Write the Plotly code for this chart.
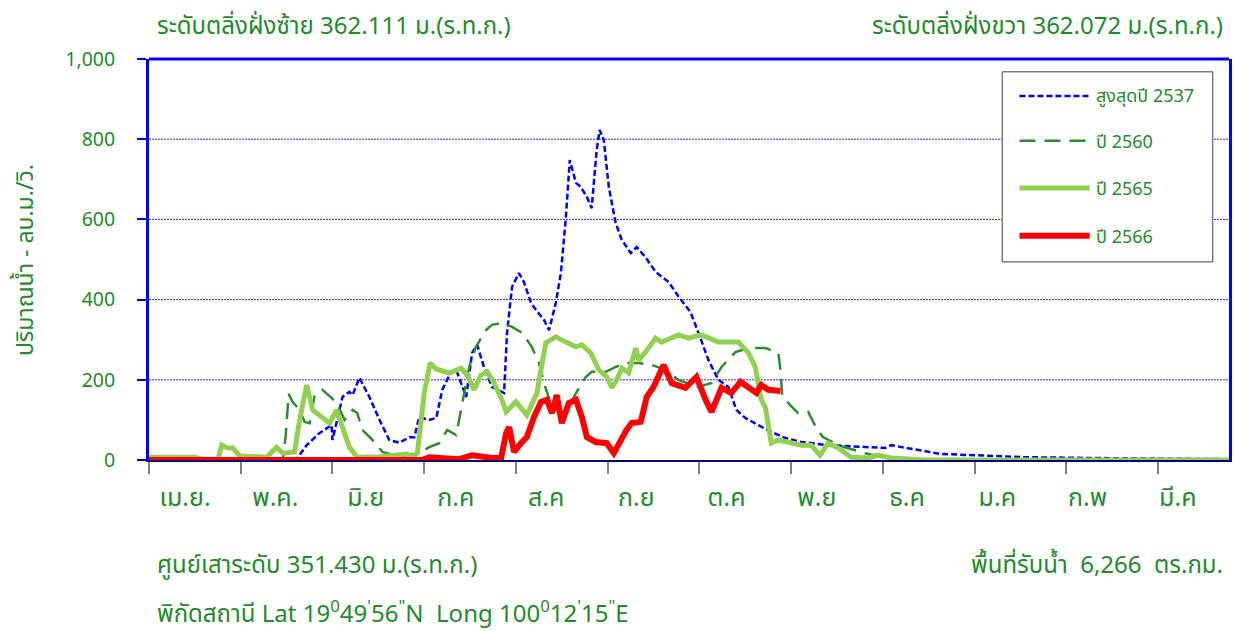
import plotly.graph_objects as go

# --- data (x = day of hydrological year, starting 1 April) ---
month_labels = ["เม.ย.", "พ.ค.", "มิ.ย", "ก.ค", "ส.ค", "ก.ย", "ต.ค", "พ.ย", "ธ.ค", "ม.ค", "ก.พ", "มี.ค"]
grid_levels = [200, 400, 600, 800]

max2537_day = [0, 43.1, 49.9, 53.3, 57.6, 61.7, 62.0, 65.4, 67.7, 68.8, 71.1, 74.5, 77.9, 81.2, 84.6,
               88.0, 89.7, 91.3, 94.7, 97.1, 99.1, 102.1, 103.8, 107.2, 109.2, 110.9, 113.2, 115.9,
               120.0, 121.0, 122.7, 125.0, 126.7, 129.1, 130.8, 133.5, 135.2, 137.5, 139.2, 140.9,
               142.2, 144.3, 145.9, 148.0, 149.6, 151.3, 152.3, 153.7, 155.4, 157.7, 159.8, 162.8,
               164.8, 167.8, 171.2, 175.6, 179.0, 183.0, 185.7, 189.1, 192.4, 195.8, 198.5, 201.5,
               205.9, 210.3, 215.0, 220.4, 229.5, 240.6, 248.7, 250.8, 256.5, 262.2, 267.6, 279.1,
               295.9, 318.2, 365]
max2537_q = [0, 0, 3, 37, 67, 87, 50, 157, 170, 162, 205, 157, 100, 50, 43,
             57, 57, 107, 100, 105, 175, 220, 225, 157, 267, 287, 232, 182,
             167, 317, 432, 466, 444, 392, 374, 349, 324, 392, 466, 606,
             748, 691, 681, 656, 628, 773, 823, 798, 681, 591, 549, 516,
             531, 506, 469, 444, 407, 369, 317, 249, 200, 182, 125, 105,
             87, 70, 55, 45, 37, 32, 30, 37, 30, 22, 15, 12,
             7, 5, 2]

y2560_day = [0, 45.2, 46.2, 47.2, 48.5, 50.9, 52.6, 54.3, 56.0, 58.6, 61.7, 63.4, 66.1, 68.8, 70.4,
             72.1, 75.5, 78.9, 84.6, 91.3, 94.7, 98.1, 100.8, 103.8, 104.8, 106.5, 108.2, 110.5,
             113.9, 115.9, 119.3, 122.7, 126.1, 129.4, 131.8, 133.5, 135.8, 138.5, 140.9, 144.3,
             147.6, 149.6, 154.4, 157.7, 161.1, 165.5, 169.9, 174.6, 178.9, 183.4, 185.7, 190.1,
             193.5, 198.2, 202.6, 208.3, 212.7, 213.4, 214.0, 216.7, 219.4, 222.8, 225.5, 227.8,
             232.9, 242.0, 249.7, 259.9, 365]
y2560_q = [0, 0, 60, 165, 145, 125, 95, 92, 162, 175, 155, 142, 100, 125, 117,
           75, 50, 20, 8, 17, 32, 42, 75, 62, 100, 167, 232, 282,
           324, 337, 342, 332, 317, 282, 242, 192, 140, 117, 117, 167,
           207, 220, 220, 232, 242, 242, 237, 225, 200, 187, 182, 192,
           232, 269, 279, 279, 267, 225, 160, 137, 117, 120, 80, 57,
           37, 17, 5, 0, 0]

y2565_day = [0, 15.5, 18.9, 23.3, 24.6, 26.6, 28.3, 30.7, 39.8, 43.1, 45.2, 49.2, 50.9, 53.3, 55.3,
             58.3, 61.0, 63.4, 65.4, 67.7, 70.4, 77.9, 87.0, 89.0, 90.7, 93.0, 95.0, 97.1, 101.4,
             105.5, 107.5, 109.9, 112.2, 114.3, 116.6, 119.3, 120.7, 124.0, 127.7, 131.1, 134.1,
             137.5, 140.9, 144.3, 146.3, 149.3, 152.0, 154.7, 156.4, 158.1, 159.8, 162.1, 164.5,
             165.5, 167.8, 171.2, 173.2, 179.0, 182.3, 186.7, 192.4, 199.2, 202.6, 204.9, 206.9,
             208.3, 210.3, 212.7, 220.4, 223.8, 226.8, 229.5, 232.9, 237.3, 243.0, 246.4, 250.8,
             262.2, 365]
y2565_q = [7, 7, 0, 0, 37, 30, 30, 10, 7, 32, 17, 20, 100, 187, 125,
           107, 92, 125, 82, 32, 7, 8, 15, 8, 17, 167, 242, 227, 217,
           229, 212, 175, 212, 220, 192, 150, 120, 145, 112, 167, 292,
           307, 294, 282, 287, 267, 225, 207, 180, 200, 229, 217, 279,
           249, 269, 304, 294, 312, 304, 312, 294, 294, 267, 232, 150,
           132, 42, 50, 37, 37, 12, 42, 30, 7, 5, 12, 5,
           0, 0]

y2566_day = [0, 92.3, 94.7, 98.1, 104.8, 109.2, 112.6, 115.9, 119.0, 120.7, 121.7, 123.4, 125.7,
             127.7, 130.1, 132.5, 134.5, 136.2, 137.8, 139.5, 141.9, 144.3, 146.3, 148.0, 151.0,
             154.7, 157.1, 159.4, 161.4, 163.1, 166.2, 168.2, 170.5, 173.9, 176.6, 181.3, 185.0,
             188.1, 190.1, 193.5, 196.8, 199.9, 202.6, 205.3, 206.9, 209.3, 213.4]
y2566_q = [0, 0, 7, 5, 2, 12, 7, 5, 5, 67, 82, 20, 42,
           57, 107, 145, 150, 117, 162, 92, 142, 150, 107, 57, 45,
           42, 17, 50, 75, 92, 95, 157, 182, 237, 192, 180, 207,
           150, 120, 180, 167, 195, 182, 167, 187, 175, 172]

GREEN = "#1E8C28"
FONT = "Noto Sans, Noto Sans Thai, Tahoma, sans-serif"

series = [
    ("สูงสุดปี 2537", max2537_day, max2537_q, "#0000FF", 2.5, "6px,3px"),
    ("ปี 2560", y2560_day, y2560_q, "#2D8C2D", 2.5, "16px,9px"),
    ("ปี 2565", y2565_day, y2565_q, "#92D050", 5, "solid"),
    ("ปี 2566", y2566_day, y2566_q, "#FF0000", 6, "solid"),
]

fig = go.Figure()
for name, xs, ys, col, w, dash in series:
    fig.add_trace(go.Scatter(x=xs, y=ys, mode="lines", name=name,
                             line=dict(color=col, width=w, dash=dash)))

# month tick positions: boundaries every 31 days, labels near the start of each block
tick_bounds = [31 * i for i in range(12)]
label_pos = [12.2 + 30.5 * i for i in range(12)]

fig.update_layout(
    width=1235, height=631,
    margin=dict(l=149, r=3, t=59, b=171),
    paper_bgcolor="white", plot_bgcolor="white",
    showlegend=False,
    font=dict(family=FONT, color=GREEN, size=18),
)
fig.update_xaxes(
    range=[0, 365], showgrid=False, zeroline=False,
    showline=True, linecolor="#000080", linewidth=2,
    tickmode="array", tickvals=label_pos, ticktext=month_labels, ticks="",
    tickfont=dict(size=25, color=GREEN), ticklabelstandoff=14,
    minor=dict(tickmode="array", tickvals=tick_bounds, ticks="outside",
               ticklen=12, tickcolor="#808080", tickwidth=1.5, showgrid=False),
)
fig.update_yaxes(
    range=[0, 1000], dtick=200, tickformat=",", showgrid=False,
    zeroline=False, showline=True, linecolor="#0000FF", linewidth=3, mirror=True,
    ticks="outside", ticklen=9, tickcolor="#0000FF", tickwidth=1.5,
    tickfont=dict(size=19.5, color=GREEN), ticklabelstandoff=18,
)

shapes = [dict(type="line", xref="paper", yref="paper", x0=0, x1=1, y0=1, y1=1,
               line=dict(color="#0000FF", width=3))]
# blue dotted gridlines
for g in grid_levels:
    shapes.append(dict(type="line", xref="paper", yref="y", x0=0, x1=1, y0=g, y1=g,
                       line=dict(color="#2828FF", width=1, dash="2px,1px"), layer="below"))
annotations = []

# legend box drawn by hand to match the original layout
shapes.append(dict(type="rect", xref="paper", yref="paper", x0=0.790, x1=0.985, y0=0.494, y1=0.968,
                   line=dict(color="#404040", width=1), fillcolor="white", layer="above"))
rows = [0.908, 0.796, 0.678, 0.559]
for (name, _, _, col, w, dash), ry in zip(series, rows):
    shapes.append(dict(type="line", xref="paper", yref="paper", x0=0.806, x1=0.871, y0=ry, y1=ry,
                       line=dict(color=col, width=w, dash=dash), layer="above"))
    annotations.append(dict(xref="paper", yref="paper", x=0.875, y=ry, text=name, showarrow=False,
                            xanchor="left", yanchor="middle", font=dict(size=18, color=GREEN)))

texts = [
    (0.0055, 1.085, "left", "ระดับตลิ่งฝั่งซ้าย 362.111 ม.(ร.ท.ก.)"),
    (0.996, 1.085, "right", "ระดับตลิ่งฝั่งขวา 362.072 ม.(ร.ท.ก.)"),
    (0.0055, -0.257, "left", "ศูนย์เสาระดับ 351.430 ม.(ร.ท.ก.)"),
    (0.996, -0.257, "right", "พื้นที่รับน้ำ  6,266  ตร.กม."),
    (0.0055, -0.379, "left", "พิกัดสถานี Lat 19<sup>0</sup>49<sup>'</sup>56<sup>\"</sup>N  Long 100<sup>0</sup>12<sup>'</sup>15<sup>\"</sup>E"),
]
for x, y, anc, t in texts:
    annotations.append(dict(xref="paper", yref="paper", x=x, y=y, text=t, showarrow=False,
                            xanchor=anc, yanchor="middle", font=dict(size=24, color=GREEN)))

annotations.append(dict(xref="paper", yref="paper", x=-0.1163, y=0.5, text="ปริมาณน้ำ - ลบ.ม./วิ.",
                        textangle=-90, showarrow=False, xanchor="center", yanchor="middle",
                        font=dict(size=23, color=GREEN)))

fig.update_layout(shapes=shapes, annotations=annotations)
# the page's default body margin would shift the whole figure by 8px
fig.write_html("out.html", config={"displayModeBar": False},
               post_script="document.body.style.margin='0';")
